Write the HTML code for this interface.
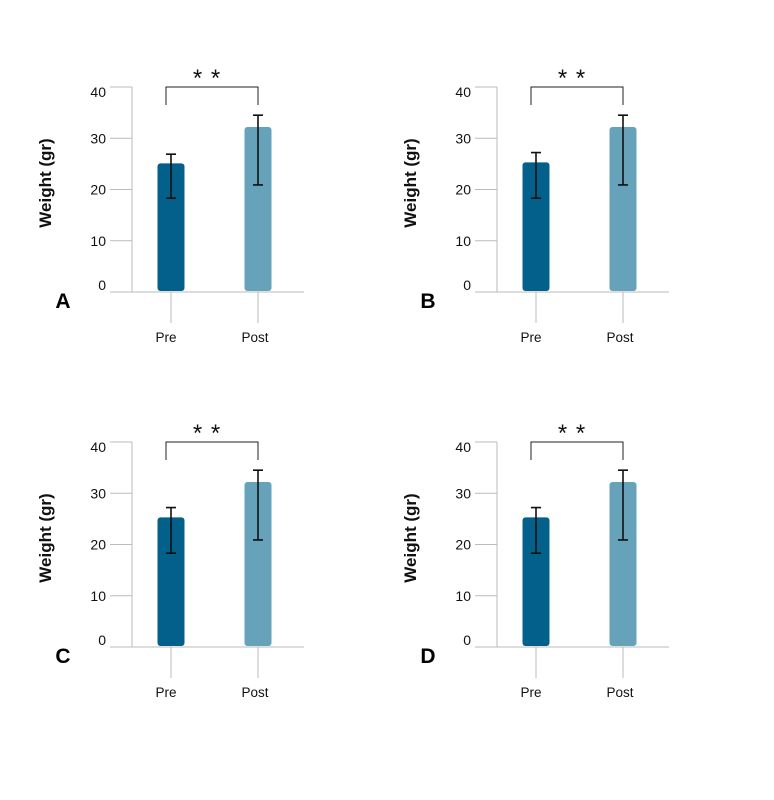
<!DOCTYPE html>
<html><head><meta charset="utf-8">
<style>
html,body{margin:0;padding:0;background:#fff;}
svg{display:block;font-family:"Liberation Sans",sans-serif;}
</style></head>
<body>
<svg id="chart" width="774" height="800"></svg>
<script>
const panelLetters = ["A","B","C","D"];
const categories = ["Pre","Post"];
const meanValues = [[25.1,32.2],[25.3,32.2],[25.3,32.2],[25.3,32.2]];
const errLow = [[18.3,20.9],[18.3,20.9],[18.3,20.9],[18.3,20.9]];
const errHigh = [[26.9,34.5],[27.2,34.5],[27.2,34.5],[27.2,34.5]];
const yTicks = [0,10,20,30,40];
const sigLabel = "* *";
const NS="http://www.w3.org/2000/svg";
const svg=document.getElementById('chart');
const offsets=[[0,0],[365,0],[0,355],[365,355]];
const colors=["#03608a","#66a3bb"];
function mk(tag,attrs,parent){const e=document.createElementNS(NS,tag);for(const k in attrs)e.setAttribute(k,attrs[k]);(parent||svg).appendChild(e);return e;}
panelLetters.forEach((L,p)=>{
  const [ox,oy]=offsets[p];
  const g=mk('g',{transform:`translate(${ox},${oy})`});
  
  
  const y0=292,yTop=87,ymax=40;
  const y=v=>y0-(v/ymax)*(y0-yTop);
  const xc=[171,258];
  const ax=mk('line',{x1:132,y1:yTop,x2:132,y2:y0,stroke:'#bbb','stroke-width':1},g);
  
  
  yTicks.forEach((t,i)=>{
    const ty=y(t);
    const tl=mk('line',{x1:110,y1:ty,x2:132,y2:ty,stroke:'#bbb','stroke-width':1},g);
    
    
    let dy= t===ymax?5: (t===0?-7:0);
    const tx=mk('text',{x:106,y:ty+dy+5,'text-anchor':'end','font-size':14,fill:'#111'},g);
    tx.textContent=t;
    
    
  });
  const xa=mk('line',{x1:110,y1:y0,x2:304,y2:y0,stroke:'#bbb','stroke-width':1},g);
  
  
  categories.forEach((c,i)=>{
    const ct=mk('line',{x1:xc[i],y1:y0,x2:xc[i],y2:323,stroke:'#bbb','stroke-width':1},g);
    
    
    const cl=mk('text',{x:xc[i]-5+(i*2),y:342,'text-anchor':'middle','font-size':13.5,fill:'#111'},g);
    cl.textContent=c;
    
    
    const v=meanValues[p][i];
    const b=mk('rect',{x:xc[i]-13.5,y:y(v),width:27,height:y0-1-y(v),rx:3,fill:colors[i]},g);
    
    
    const eh=y(errHigh[p][i]),el=y(errLow[p][i]);
    const e=mk('path',{d:`M${xc[i]},${eh}V${el}M${xc[i]-5},${eh}H${xc[i]+5}M${xc[i]-5},${el}H${xc[i]+5}`,stroke:'#111','stroke-width':1.6,fill:'none'},g);
    
    
  });
  const br=mk('path',{d:`M166,105V87H258V105`,stroke:'#222','stroke-width':1,fill:'none'},g);
  
  
  const st=mk('text',{x:207,y:86,'text-anchor':'middle','font-size':24,fill:'#111','letter-spacing':'1'},g);
  st.textContent=sigLabel;
  
  
  const yt=mk('text',{x:0,y:0,transform:'translate(51,183) rotate(-90)','text-anchor':'middle','font-size':17,'font-weight':'bold',fill:'#111'},g);
  yt.textContent='Weight (gr)';
  
  
  const pl=mk('text',{x:63,y:308,'text-anchor':'middle','font-size':21,'font-weight':'bold',fill:'#000'},g);
  pl.textContent=L;
  
  
});
</script>
</body></html>
